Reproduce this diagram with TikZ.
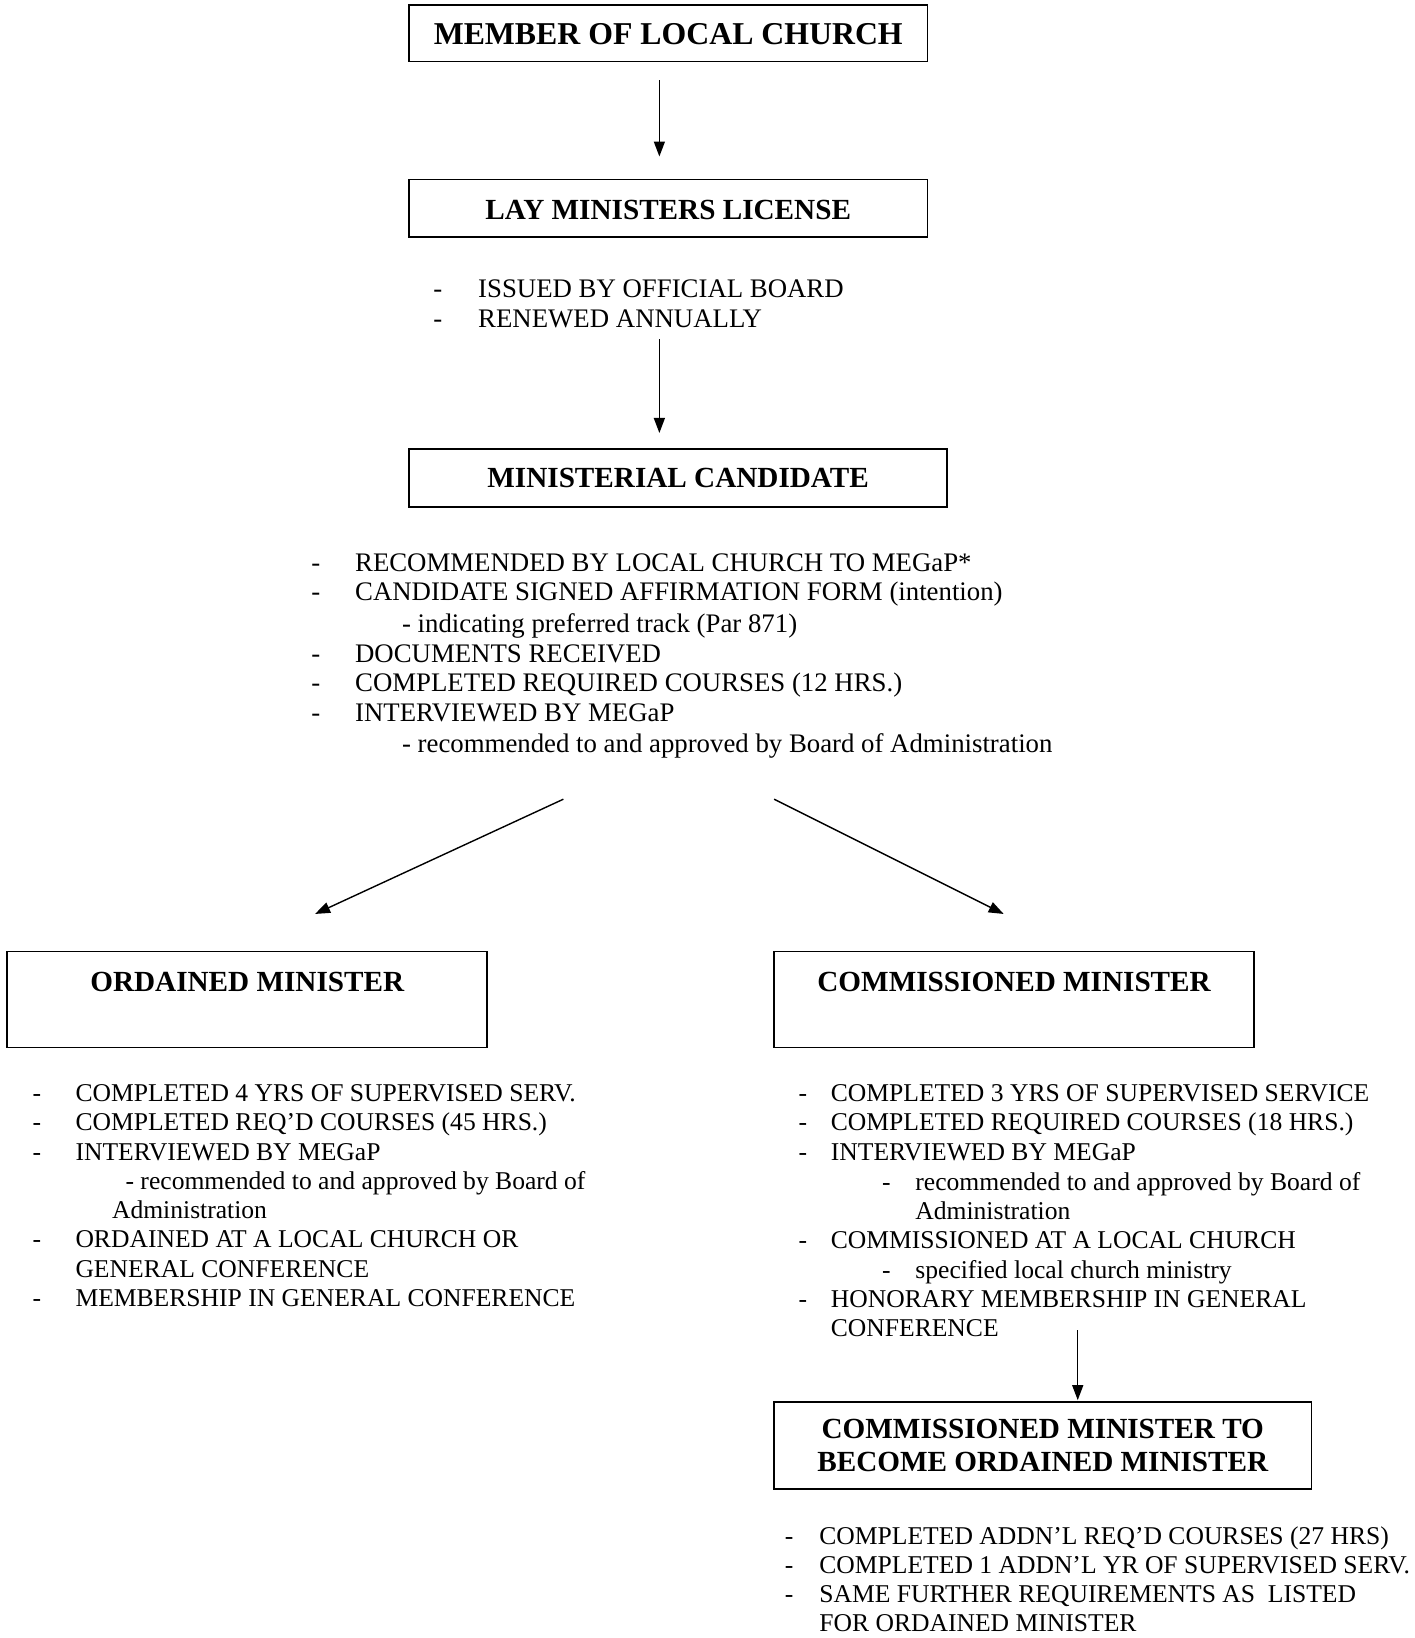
\documentclass[tikz,border=0pt]{standalone}
\usepackage{fontspec}
\setmainfont{Liberation Serif}
\usetikzlibrary{arrows.meta}
\tikzset{
  boxhead/.style={draw, line width=0.9pt, inner sep=0pt, font=\bfseries\fontsize{14.6}{16.7}\selectfont, align=center},
  txt/.style={anchor=base west, inner sep=0pt, font=\fontsize{12.8}{14.8}\selectfont},
  txtb/.style={txt, font=\fontsize{13.4}{15}\selectfont},
  conn/.style={line width=0.7pt, -{Triangle[length=7.5pt,width=5.5pt]}}
}
\begin{document}
\begin{tikzpicture}[x=0.52175pt, y=-0.52175pt]
\useasboundingbox (0,0) rectangle (1356,1570);
% boxes
\node[boxhead, anchor=base, font=\bfseries\fontsize{15.9}{17}\selectfont, minimum width=497*0.52175pt, text height=38*0.52175pt, text depth=16*0.52175pt] (member) at (640.5,43) {MEMBER OF LOCAL CHURCH};
\node[boxhead, anchor=base, minimum width=497*0.52175pt, text height=38*0.52175pt, text depth=17*0.52175pt] (lay) at (640.5,210) {LAY MINISTERS LICENSE};
\node[boxhead, anchor=base, minimum width=516*0.52175pt, text height=37*0.52175pt, text depth=19*0.52175pt] (cand) at (650,467) {MINISTERIAL CANDIDATE};
\node[boxhead, anchor=base, minimum width=460*0.52175pt, text height=38*0.52175pt, text depth=54*0.52175pt] (ord) at (237,950) {ORDAINED MINISTER};
\node[boxhead, anchor=base, minimum width=460*0.52175pt, text height=38*0.52175pt, text depth=54*0.52175pt] (com) at (972,950) {COMMISSIONED MINISTER};
\node[boxhead, minimum width=515*0.52175pt, minimum height=83*0.52175pt] (fin) at (999.5,1385.5) {COMMISSIONED MINISTER TO\\BECOME ORDAINED MINISTER};
% lay list
\node[txtb] (ld1) at (415,285) {-};
\node[txtb] (lt1) at (458,285) {ISSUED BY OFFICIAL BOARD};
\node[txtb] (ld2) at (415,314) {-};
\node[txtb] (lt2) at (458,314) {RENEWED ANNUALLY};
% candidate list
\node[txtb] (cd1) at (298,548) {-};
\node[txtb] (ct1) at (340,548) {RECOMMENDED BY LOCAL CHURCH TO MEGaP*};
\node[txtb] (cd2) at (298,576) {-};
\node[txtb] (ct2) at (340,576) {CANDIDATE SIGNED AFFIRMATION FORM (intention)};
\node[txtb] (ct3) at (385,606) {- indicating preferred track (Par 871)};
\node[txtb] (cd4) at (298,635) {-};
\node[txtb] (ct4) at (340,635) {DOCUMENTS RECEIVED};
\node[txtb] (cd5) at (298,663) {-};
\node[txtb] (ct5) at (340,663) {COMPLETED REQUIRED COURSES (12 HRS.)};
\node[txtb] (cd6) at (298,692) {-};
\node[txtb] (ct6) at (340,692) {INTERVIEWED BY MEGaP};
\node[txtb] (ct7) at (385,721) {- recommended to and approved by Board of Administration};
% ordained list
\node[txt] (od1) at (31,1056) {-};
\node[txt] (ot1) at (72,1056) {COMPLETED 4 YRS OF SUPERVISED SERV.};
\node[txt] (od2) at (31,1084) {-};
\node[txt] (ot2) at (72,1084) {COMPLETED REQ’D COURSES (45 HRS.)};
\node[txt] (od3) at (31,1112) {-};
\node[txt] (ot3) at (72,1112) {INTERVIEWED BY MEGaP};
\node[txt] (ot4) at (120,1140) {- recommended to and approved by Board of};
\node[txt] (ot5) at (107,1168) {Administration};
\node[txt] (od6) at (31,1196) {-};
\node[txt] (ot6) at (72,1196) {ORDAINED AT A LOCAL CHURCH OR};
\node[txt] (ot7) at (72,1224) {GENERAL CONFERENCE};
\node[txt] (od8) at (31,1252) {-};
\node[txt] (ot8) at (72,1252) {MEMBERSHIP IN GENERAL CONFERENCE};
% commissioned list
\node[txt] (md1) at (765,1056) {-};
\node[txt] (mt1) at (796,1056) {COMPLETED 3 YRS OF SUPERVISED SERVICE};
\node[txt] (md2) at (765,1084) {-};
\node[txt] (mt2) at (796,1084) {COMPLETED REQUIRED COURSES (18 HRS.)};
\node[txt] (md3) at (765,1112) {-};
\node[txt] (mt3) at (796,1112) {INTERVIEWED BY MEGaP};
\node[txt] (md4) at (845,1141) {-};
\node[txt] (mt4) at (877,1141) {recommended to and approved by Board of};
\node[txt] (mt5) at (877,1169) {Administration};
\node[txt] (md6) at (765,1197) {-};
\node[txt] (mt6) at (796,1197) {COMMISSIONED AT A LOCAL CHURCH};
\node[txt] (md7) at (845,1225) {-};
\node[txt] (mt7) at (877,1225) {specified local church ministry};
\node[txt] (md8) at (765,1253) {-};
\node[txt] (mt8) at (796,1253) {HONORARY MEMBERSHIP IN GENERAL};
\node[txt] (mt9) at (796,1281) {CONFERENCE};
% final list
\node[txt] (fd1) at (752,1480) {-};
\node[txt] (ft1) at (785,1480) {COMPLETED ADDN’L REQ’D COURSES (27 HRS)};
\node[txt] (fd2) at (752,1508) {-};
\node[txt] (ft2) at (785,1508) {COMPLETED 1 ADDN’L YR OF SUPERVISED SERV.};
\node[txt] (fd3) at (752,1536) {-};
\node[txt] (ft3) at (785,1536) {SAME FURTHER REQUIREMENTS AS\ \ LISTED};
\node[txt] (ft4) at (785,1564) {FOR ORDAINED MINISTER};
% connector end points
\coordinate (a1s) at (632,77);   \coordinate (a1e) at (632,150);
\coordinate (a2s) at (632,325);  \coordinate (a2e) at (632,415);
\coordinate (a3s) at (540,766);  \coordinate (a3e) at (302,876);
\coordinate (a4s) at (742,766);  \coordinate (a4e) at (962,876);
\coordinate (a5s) at (1033,1275); \coordinate (a5e) at (1033,1342);
\draw[conn] (a1s) -- (a1e);
\draw[conn] (a2s) -- (a2e);
\draw[conn] (a3s) -- (a3e);
\draw[conn] (a4s) -- (a4e);
\draw[conn] (a5s) -- (a5e);
\end{tikzpicture}
\end{document}
